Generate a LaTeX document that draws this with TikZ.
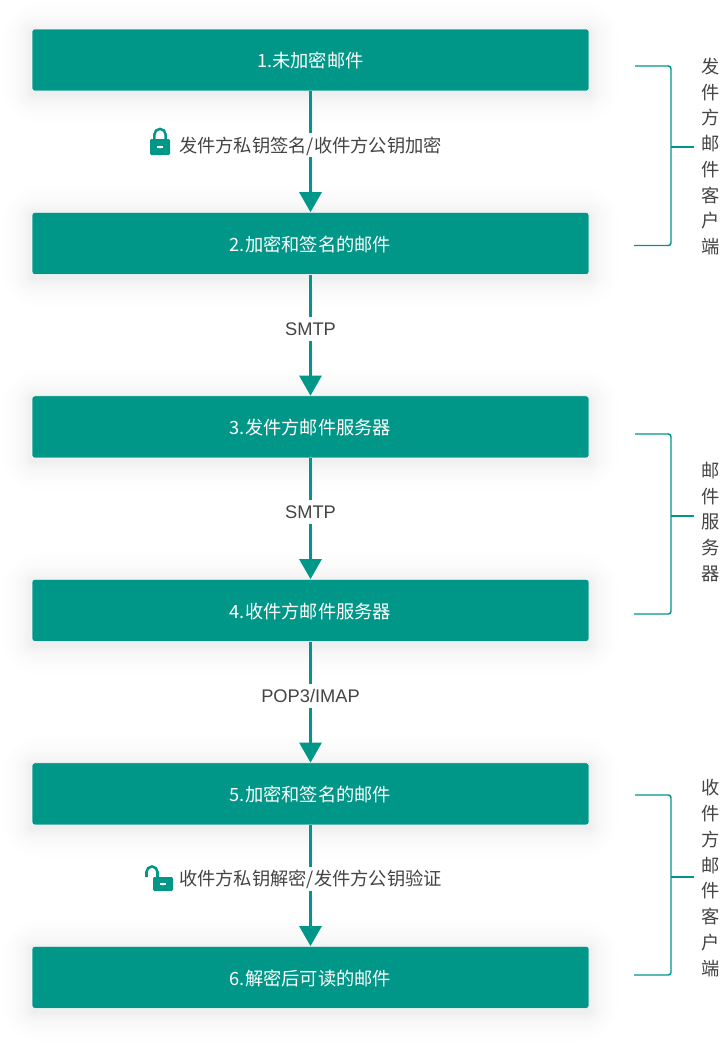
\documentclass[tikz,border=0pt]{standalone}
\usepackage{fontspec}
\setmainfont{Noto Sans CJK SC}
\newfontfamily\latinfont{Liberation Sans}
\usepackage{xcolor}
\usetikzlibrary{arrows.meta,positioning,calc,backgrounds}
\definecolor{TealColor}{RGB}{0,150,136}
\definecolor{LabelColor}{RGB}{68,68,68}
\tikzset{
  stepbox/.style={fill=TealColor, draw=white, line width=0.4pt, rounded corners=2pt, text=white, minimum width=417.75pt, minimum height=46.5pt, inner sep=0pt, text height=13.5pt, text depth=1.8pt},
  flowarrow/.style={-{Triangle[width=16.5pt,length=15pt]}, TealColor, line width=2.25pt},
  flowlabel/.style={fill=white, text=LabelColor, inner sep=1pt, minimum height=18pt, text height=12pt, text depth=1.8pt},
  bracket/.style={TealColor, line width=1.1pt, rounded corners=2pt},
  sidelabel/.style={text=LabelColor, align=center, inner sep=0pt, font=\fontsize{13.7pt}{19.3pt}\selectfont},
  softshadow/.style={black, opacity=0.005},
  lockclosed/.pic={
    \draw[TealColor, line width=1.9pt] (-5.6,2) -- (-5.6,-4.5) arc[start angle=180, end angle=360, x radius=5.6, y radius=5.6] -- (5.6,2);
    \fill[TealColor, rounded corners=1pt] (-10,0) rectangle (10,16);
    \fill[white] (-3,7.2) rectangle (3,8.8);
    \fill[white] (0,8) circle[radius=1.5];
  },
  lockopen/.pic={
    \draw[TealColor, line width=1.9pt] (-9.5,0) -- (-9.5,-5) arc[start angle=180, end angle=360, x radius=5.5, y radius=5.5] -- (1.5,1);
    \fill[TealColor, rounded corners=1pt] (-3,0) rectangle (17,14);
    \fill[white] (4,6.2) rectangle (10,7.8);
    \fill[white] (7,7) circle[radius=1.5];
  }
}
\begin{document}
\begin{tikzpicture}[x=0.75pt, y=-0.75pt, node distance=90.7pt, font=\fontsize{13.7pt}{18pt}\selectfont]
  \useasboundingbox (0,0) rectangle (720,1043);
  % boxes
  \node[stepbox] (b1) at (310.5,60) {1.未加密邮件};
  \node[stepbox, below=of b1] (b2) {2.加密和签名的邮件};
  \node[stepbox, below=of b2] (b3) {3.发件方邮件服务器};
  \node[stepbox, below=of b3] (b4) {4.收件方邮件服务器};
  \node[stepbox, below=of b4] (b5) {5.加密和签名的邮件};
  \node[stepbox, below=of b5] (b6) {6.解密后可读的邮件};
  \begin{scope}[on background layer]
    \fill[white] (0,0) rectangle (720,1043);
    \foreach \b in {b1,b2,b3,b4,b5,b6}
      \foreach \k in {1,2,3,4,5,6,7,8,10,12,14,16,19,22,26,30}
        \fill[softshadow, rounded corners=\k pt] ([shift={(-\k,-\k+3)}]\b.north west) rectangle ([shift={(\k,\k+3)}]\b.south east);
  \end{scope}
  % arrows
  \draw[flowarrow] (b1)--(b2);
  \draw[flowarrow] (b2)--(b3);
  \draw[flowarrow] (b3)--(b4);
  \draw[flowarrow] (b4)--(b5);
  \draw[flowarrow] (b5)--(b6);
  % labels
  \node[flowlabel] (l1) at ($(b1)!0.5!(b2)+(0,-6.5)$) {发件方私钥签名/收件方公钥加密};
  \node[flowlabel] (l2) at ($(b2)!0.5!(b3)+(0,-6.5)$) {\latinfont SMTP};
  \node[flowlabel] (l3) at ($(b3)!0.5!(b4)+(0,-6.5)$) {\latinfont SMTP};
  \node[flowlabel] (l4) at ($(b4)!0.5!(b5)+(0,-6.5)$) {\latinfont POP3/IMAP};
  \node[flowlabel] (l5) at ($(b5)!0.5!(b6)+(0,-6.5)$) {收件方私钥解密/发件方公钥验证};
  \pic at (160,139) {lockclosed};
  \pic at (156,877) {lockopen};
  % brackets
  \coordinate (t1) at (635,66);
  \coordinate (e1) at (634,245.5);
  \coordinate (m1) at (694,147);
  \coordinate (t2) at (635,434);
  \coordinate (e2) at (634,614);
  \coordinate (m2) at (694,516);
  \coordinate (t3) at (635,795);
  \coordinate (e3) at (634,975);
  \coordinate (m3) at (694,877);
  \foreach \i in {1,2,3} {
    \draw[bracket] (t\i) -- (t\i -| 671,0) -- (e\i -| 671,0) -- (e\i);
    \draw[bracket, sharp corners] (m\i -| 671,0) -- (m\i);
  }
  \node[sidelabel] (s1) at (711,156.5) {发\\件\\方\\邮\\件\\客\\户\\端};
  \node[sidelabel] (s2) at (711,522) {邮\\件\\服\\务\\器};
  \node[sidelabel] (s3) at (711,878) {收\\件\\方\\邮\\件\\客\\户\\端};
\end{tikzpicture}
\end{document}
